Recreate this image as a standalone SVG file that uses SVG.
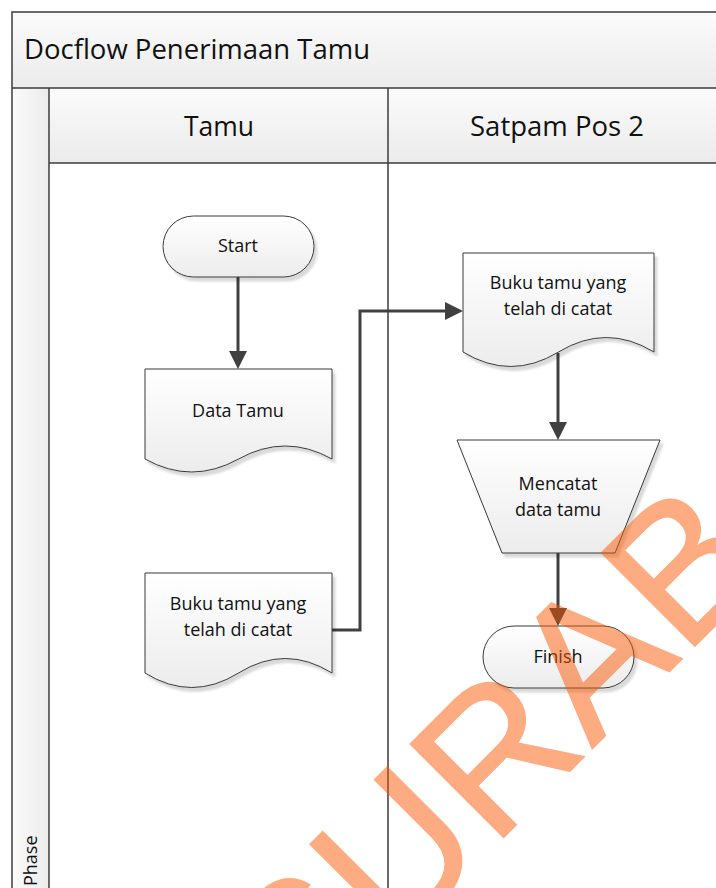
<svg xmlns="http://www.w3.org/2000/svg" width="716" height="888" viewBox="0 0 716 888">
  <defs>
    <style>
      .lbl{font-family:"Open Sans","Noto Sans","Liberation Sans",sans-serif;fill:#111}
      .frame{fill:none;stroke:#3c3c3c;stroke-width:1.5}
      .node{fill:url(#gNode);stroke:#3a3a3a;stroke-width:1;filter:url(#shadow)}
      .ntext{font-size:18px;text-anchor:middle}
      .flow{fill:none;stroke:#404040;stroke-width:3;marker-end:url(#arrow)}
      .mark{font-family:"Liberation Sans",Arial,sans-serif;font-size:192px;fill:#FB5600;stroke:#FB5600;stroke-width:1.5;letter-spacing:2px}
    </style>
    <linearGradient id="gHdr" x1="0" y1="0" x2="0" y2="1">
      <stop offset="0" stop-color="#fbfbfb"/>
      <stop offset="1" stop-color="#ebebeb"/>
    </linearGradient>
    <linearGradient id="gPhase" x1="0" y1="0" x2="1" y2="0">
      <stop offset="0" stop-color="#fbfbfb"/>
      <stop offset="1" stop-color="#ebebeb"/>
    </linearGradient>
    <linearGradient id="gNode" x1="0" y1="0" x2="0" y2="1">
      <stop offset="0" stop-color="#ffffff"/>
      <stop offset="1" stop-color="#ececec"/>
    </linearGradient>
    <filter id="shadow" x="-10%" y="-10%" width="125%" height="130%">
      <feDropShadow dx="3" dy="4" stdDeviation="1.2" flood-color="#000" flood-opacity="0.15"/>
    </filter>
    <marker id="arrow" markerUnits="userSpaceOnUse" markerWidth="18" markerHeight="18" refX="10" refY="9" orient="auto">
      <path d="M0,0 L18,9 L0,18 z" fill="#404040"/>
    </marker>
  </defs>

  <rect width="716" height="888" fill="#ffffff"/>

  <!-- swimlane pool -->
  <g id="pool">
    <rect x="12" y="12" width="710" height="76" fill="url(#gHdr)"/>
    <rect x="49" y="88" width="670" height="75" fill="url(#gHdr)"/>
    <rect x="12" y="88" width="37" height="806" fill="url(#gPhase)"/>
    <path class="frame" d="M720,12 H12 V892 M12,88 H720 M49,88 V892 M49,163 H720 M388,88 V892"/>
    <text class="lbl" x="24" y="59" font-size="27.5">Docflow Penerimaan Tamu</text>
    <text class="lbl" x="219" y="136" font-size="26.5" text-anchor="middle">Tamu</text>
    <text class="lbl" x="557" y="136" font-size="27.5" text-anchor="middle">Satpam Pos 2</text>
    <text class="lbl" font-size="18" transform="translate(37,886) rotate(-90)">Phase</text>
  </g>

  <!-- connectors -->
  <g id="connectors">
    <path class="flow" d="M238,277 V361"/>
    <path class="flow" d="M332,630 H360 V311 H455"/>
    <path class="flow" d="M558,353 V432"/>
    <path class="flow" d="M558,553 V618"/>
  </g>

  <!-- nodes -->
  <g id="start">
    <rect class="node" x="163" y="216" width="151" height="61" rx="30.5"/>
    <text class="lbl ntext" x="238" y="252">Start</text>
  </g>

  <g id="data-tamu">
    <path class="node" d="M145,369 H332 V459 Q285.25,433 238.5,459 Q191.75,485 145,459 Z"/>
    <text class="lbl ntext" x="238" y="417">Data Tamu</text>
  </g>

  <g id="buku-tamu-tamu">
    <path class="node" d="M145,573 H332 V673 Q285.25,644 238.5,673 Q191.75,702 145,673 Z"/>
    <text class="lbl ntext" x="238" y="610">Buku tamu yang</text>
    <text class="lbl ntext" x="238" y="636">telah di catat</text>
  </g>

  <g id="buku-tamu-satpam">
    <path class="node" d="M463,253 H654 V352 Q606.25,323 558.5,352 Q510.75,381 463,352 Z"/>
    <text class="lbl ntext" x="558" y="289">Buku tamu yang</text>
    <text class="lbl ntext" x="558" y="315">telah di catat</text>
  </g>

  <g id="mencatat">
    <polygon class="node" points="457,440 660,440 615,553 502,553"/>
    <text class="lbl ntext" x="558" y="490">Mencatat</text>
    <text class="lbl ntext" x="558" y="516">data tamu</text>
  </g>

  <g id="finish">
    <rect class="node" x="483" y="626" width="151" height="62" rx="31"/>
    <text class="lbl ntext" x="558" y="663">Finish</text>
  </g>

  <!-- diagonal watermark -->
  <g id="watermark" opacity="0.49">
    <text class="mark" transform="translate(301,1040) rotate(-45)">SURABAYA</text>
  </g>
</svg>
